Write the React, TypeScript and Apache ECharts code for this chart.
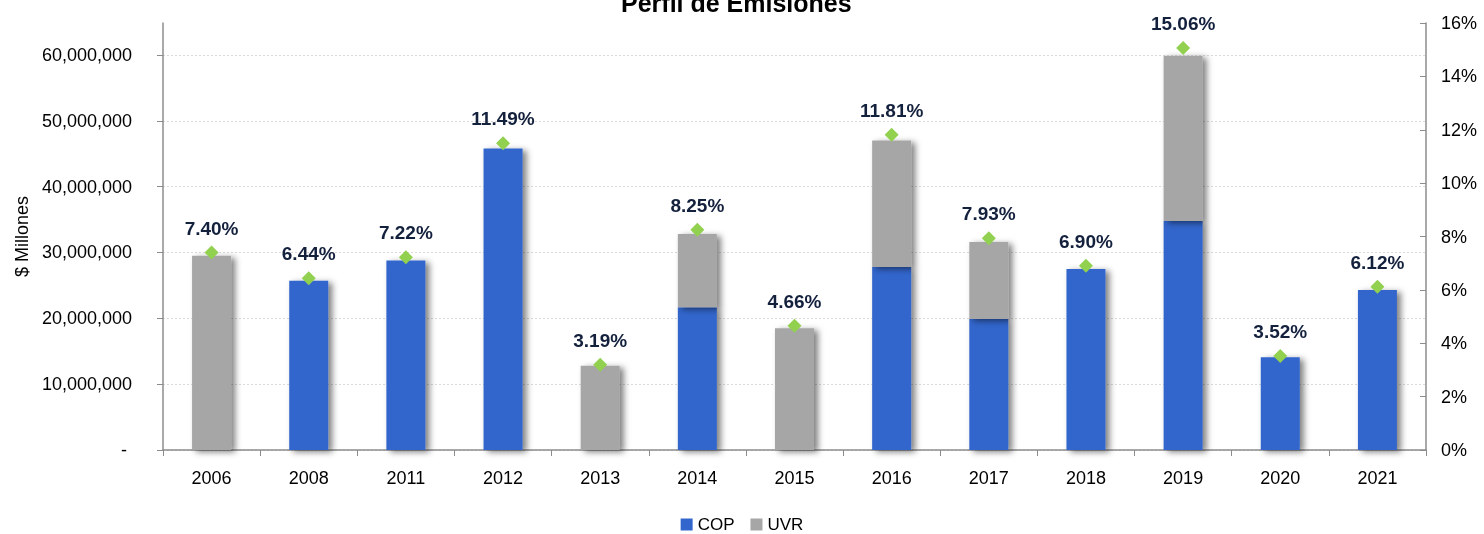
import React, { useEffect, useRef } from "react";
import * as echarts from "echarts";

const years = ["2006", "2008", "2011", "2012", "2013", "2014", "2015", "2016", "2017", "2018", "2019", "2020", "2021"];
const cop = [null, 25700000, 28800000, 45800000, null, 21700000, null, 27800000, 19900000, 27500000, 34800000, 14100000, 24300000];
const uvr = [29500000, null, null, null, 12800000, 11100000, 18500000, 19200000, 11700000, null, 25100000, null, null];
const rates = [7.40, 6.44, 7.22, 11.49, 3.19, 8.25, 4.66, 11.81, 7.93, 6.90, 15.06, 3.52, 6.12];
const leftTicks = [0, 10000000, 20000000, 30000000, 40000000, 50000000, 60000000];

const FONT = "'Liberation Sans', Arial, sans-serif";

export default function App() {
  const ref = useRef<HTMLDivElement>(null);
  useEffect(() => {
    if (!ref.current) return;
    const chart = echarts.init(ref.current, null, { renderer: "svg" });
    const barShadow = {
      shadowColor: "rgba(0,0,0,0.5)",
      shadowBlur: 6,
      shadowOffsetX: 4,
      shadowOffsetY: 2,
    };
    chart.setOption({
      animation: false,
      title: {
        text: "Perfil de Emisiones",
        left: 616,
        top: -15,
        textStyle: { fontFamily: FONT, fontWeight: "bold", fontSize: 25, color: "#000" },
      },
      legend: {
        data: ["COP", "UVR"],
        top: 511,
        left: "center",
        icon: "rect",
        itemWidth: 12,
        itemHeight: 12,
        itemGap: 16,
        textStyle: { fontFamily: FONT, fontSize: 17, color: "#000" },
      },
      grid: { left: 163, right: 58, top: 23, bottom: 84, containLabel: false },
      xAxis: {
        type: "category",
        data: years,
        boundaryGap: true,
        axisLine: { lineStyle: { color: "#8c8c8c", width: 1.5 } },
        axisTick: { show: true, length: 6, lineStyle: { color: "#8c8c8c" } },
        axisLabel: { margin: 19, fontFamily: FONT, fontSize: 18, color: "#000" },
      },
      yAxis: [
        {
          type: "value",
          min: 0,
          max: 64860000,
          interval: 10000000,
          name: "$ Millones",
          nameLocation: "middle",
          nameGap: 124,
          nameRotate: 90,
          nameTextStyle: { fontFamily: FONT, fontSize: 18, color: "#000" },
          axisLine: { show: true, lineStyle: { color: "#8c8c8c", width: 1.5 } },
          axisTick: { show: true, length: 6, customValues: leftTicks, lineStyle: { color: "#8c8c8c" } },
          axisLabel: {
            customValues: leftTicks,
            margin: 31,
            fontFamily: FONT,
            fontSize: 18,
            color: "#000",
            formatter: (v: number) => (v === 0 ? "{d|-}" : v.toLocaleString("en-US")),
            rich: { d: { padding: [0, 5, 0, 0], fontFamily: FONT, fontSize: 18, color: "#000" } },
          },
          splitLine: {
            show: true,
            lineStyle: {
              type: [2, 2],
              color: ["#d9d9d9", "#d9d9d9", "#d9d9d9", "#d9d9d9", "#d9d9d9", "#d9d9d9", "#d9d9d9", "rgba(0,0,0,0)"],
            },
          },
        },
        {
          type: "value",
          min: 0,
          max: 16,
          interval: 2,
          position: "right",
          axisLine: { show: true, lineStyle: { color: "#8c8c8c", width: 1.5 } },
          axisTick: { show: true, inside: true, length: 6, lineStyle: { color: "#8c8c8c" } },
          axisLabel: { margin: 15, fontFamily: FONT, fontSize: 18, color: "#000", formatter: "{value}%" },
          splitLine: { show: false },
        },
      ],
      series: [
        {
          name: "COP",
          type: "bar",
          stack: "total",
          barWidth: 39,
          data: cop,
          itemStyle: { color: "#3366CC", ...barShadow },
        },
        {
          name: "UVR",
          type: "bar",
          stack: "total",
          barWidth: 39,
          data: uvr,
          itemStyle: { color: "#A6A6A6", ...barShadow },
        },
        {
          name: "Tasa",
          type: "scatter",
          yAxisIndex: 1,
          symbol: "diamond",
          symbolSize: 14,
          data: rates,
          itemStyle: { color: "#92D050", opacity: 1 },
          z: 5,
          label: {
            show: true,
            position: "top",
            distance: 8,
            formatter: (p: any) => p.value.toFixed(2) + "%",
            fontFamily: FONT,
            fontWeight: "bold",
            fontSize: 19,
            color: "#14213D",
            opacity: 1,
            textBorderWidth: 0,
          },
        },
      ],
    });
    return () => chart.dispose();
  }, []);
  return <div ref={ref} style={{ position: "fixed", left: 0, top: 0, width: 1484, height: 534 }} />;
}
